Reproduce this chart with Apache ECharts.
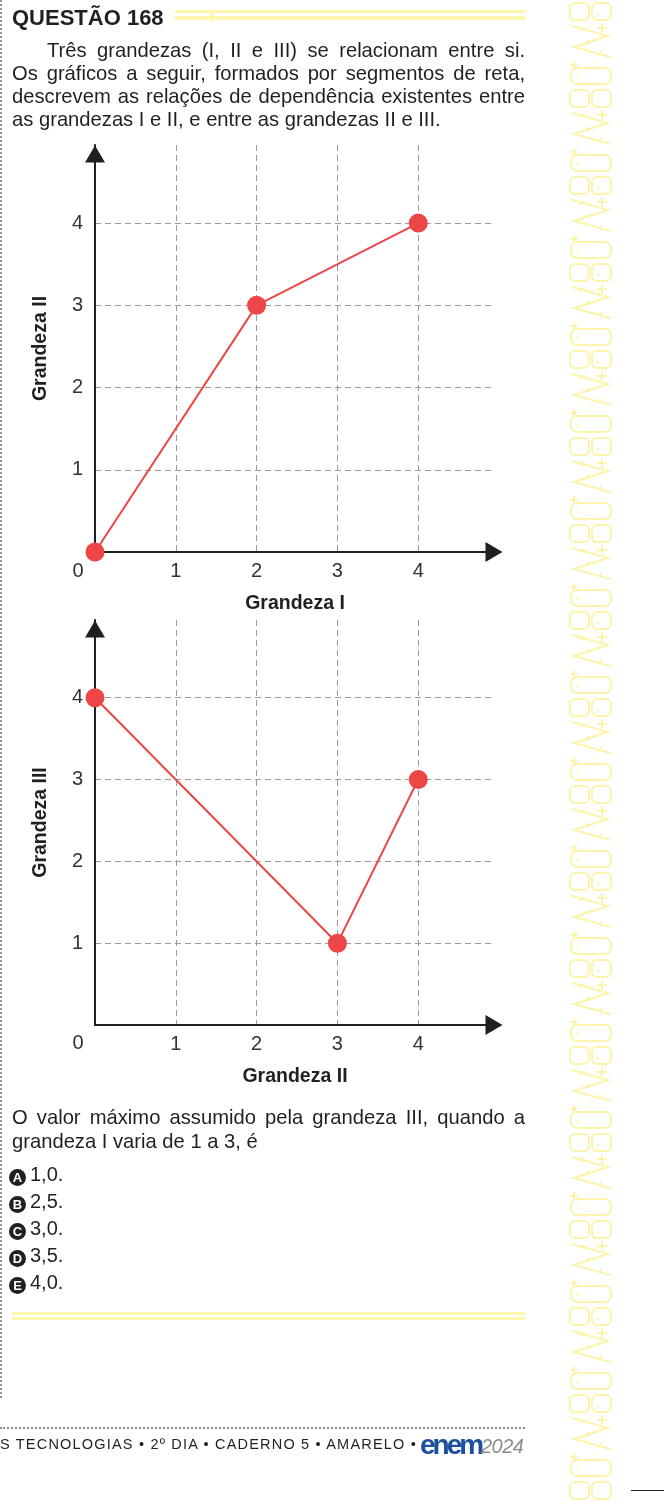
<!DOCTYPE html>
<html>
<head>
<meta charset="utf-8">
<script src="https://cdn.jsdelivr.net/npm/echarts@6/dist/echarts.min.js"></script>
<style>
html,body{margin:0;padding:0;background:#fff;}
body{width:664px;height:1501px;position:relative;overflow:hidden;font-family:'Liberation Sans',Arial,sans-serif;color:#231f20;}
#chart{position:absolute;left:0;top:0;width:664px;height:1501px;}
.abs{position:absolute;white-space:nowrap;}
.jl{position:absolute;font-size:20.2px;line-height:23px;text-align:justify;text-align-last:justify;white-space:normal;}
.ll{position:absolute;font-size:20.2px;line-height:23px;white-space:nowrap;}
.opt{position:absolute;left:9px;font-size:20px;line-height:27px;white-space:nowrap;}
.circ{display:inline-block;width:17px;height:17px;border-radius:50%;background:#231f20;color:#fff;font-weight:bold;font-size:13px;line-height:17px;text-align:center;vertical-align:-1px;margin-right:4px;}
.yl{position:absolute;background:#fdf6ad;}
#strip{position:absolute;left:568px;top:0;width:46px;height:1501px;opacity:0.85;
background-image:url("data:image/svg+xml;utf8,<svg xmlns='http://www.w3.org/2000/svg' width='46' height='87'><g fill='none' stroke='%23fbf29b' stroke-width='2' stroke-linecap='round'><rect x='2' y='3' width='19' height='17' rx='5'/><rect x='24' y='3' width='19' height='17' rx='5'/><path d='M4,26 L40,36 L6,47 L42,57'/><path d='M34,24 l0,8 M30,28 l8,0'/><path d='M6,62 l0,6 M3,65 l6,0'/><rect x='3' y='68' width='40' height='16' rx='6'/><path d='M12,30 q4,-4 6,0'/></g><g fill='%23fbf29b'><circle cx='20' cy='42' r='2'/><circle cx='30' cy='14' r='1.2'/><circle cx='10' cy='77' r='1.2'/><circle cx='33' cy='52' r='1.2'/></g></svg>");
background-repeat:repeat-y;background-size:46px 87px;}
</style>
</head>
<body>
<div id="chart"></div>

<!-- page decorations -->
<div class="abs" style="left:0;top:0;width:0;height:1398px;border-left:2px dotted #9a9a9a;"></div>
<div id="strip"></div>
<div class="yl" style="left:175px;top:10px;width:350px;height:3px;"></div>
<div class="yl" style="left:175px;top:16px;width:350px;height:4px;"></div>
<div class="yl" style="left:210px;top:10px;width:3px;height:12px;"></div>
<div class="yl" style="left:12px;top:1312px;width:513px;height:3px;"></div>
<div class="yl" style="left:12px;top:1317px;width:513px;height:3px;"></div>
<div class="abs" style="left:0;top:1427px;width:525px;height:0;border-top:2px dotted #8a8a8a;"></div>
<div class="abs" style="left:631px;top:1490px;width:33px;height:0;border-top:1px solid #231f20;"></div>

<!-- header & statement -->
<div class="abs" style="left:12px;top:7px;font-size:22px;line-height:22px;font-weight:bold;">QUESTÃO 168</div>
<div class="jl" style="left:47px;top:39px;width:478px;">Três grandezas (I, II e III) se relacionam entre si.</div>
<div class="jl" style="left:12px;top:62px;width:513px;">Os gráficos a seguir, formados por segmentos de reta,</div>
<div class="jl" style="left:12px;top:85px;width:513px;">descrevem as relações de dependência existentes entre</div>
<div class="ll" style="left:12px;top:108px;">as grandezas I e II, e entre as grandezas II e III.</div>

<!-- question -->
<div class="jl" style="left:12px;top:1105px;width:513px;line-height:24px;">O valor máximo assumido pela grandeza III, quando a</div>
<div class="ll" style="left:12px;top:1129px;line-height:24px;">grandeza I varia de 1 a 3, é</div>
<div class="opt" style="top:1161px;"><span class="circ">A</span>1,0.</div>
<div class="opt" style="top:1188px;"><span class="circ">B</span>2,5.</div>
<div class="opt" style="top:1215px;"><span class="circ">C</span>3,0.</div>
<div class="opt" style="top:1242px;"><span class="circ">D</span>3,5.</div>
<div class="opt" style="top:1269px;"><span class="circ">E</span>4,0.</div>

<!-- footer -->
<div id="foot" class="abs" style="left:0;top:1436px;font-size:14.5px;line-height:16px;color:#231f20;">S TECNOLOGIAS • 2º DIA • CADERNO 5 • AMARELO •</div>
<div class="abs" style="left:420px;top:1430px;font-size:28px;line-height:30px;font-weight:bold;color:#1c4f9c;letter-spacing:-3px;">enem</div>
<div class="abs" style="left:481px;top:1435px;font-size:20px;line-height:22px;font-style:italic;color:#8c8c8c;letter-spacing:-0.5px;">2024</div>

<script>
// ---- data ----
const tickValues = [1, 2, 3, 4];
const chart1_grandezaI = [0, 2, 4];     // x: Grandeza I
const chart1_grandezaII = [0, 3, 4];    // y: Grandeza II
const chart2_grandezaII = [0, 3, 4];    // x: Grandeza II
const chart2_grandezaIII = [4, 1, 3];   // y: Grandeza III
const chart1Names = ['Grandeza I', 'Grandeza II'];
const chart2Names = ['Grandeza II', 'Grandeza III'];
const zeroLabel = '0';

// footer letter spacing to fit measured width
(function () {
  const f = document.getElementById('foot');
  const target = 417;
  const n = f.textContent.length;
  const w0 = f.getBoundingClientRect().width;
  f.style.letterSpacing = ((target - w0) / n) + 'px';
})();

const FONT = 'Liberation Sans';
const RED = '#ec4646';
const AXIS = '#231f20';

function makeAxis(name, nameGap, isY) {
  return {
    type: 'value',
    min: 0,
    max: 4.95,
    interval: 1,
    name: name,
    nameLocation: 'middle',
    nameGap: nameGap,
    nameTextStyle: { fontFamily: FONT, fontWeight: 'bold', fontSize: 19.5, color: AXIS },
    axisLine: {
      show: true,
      onZero: false,
      symbol: ['none', 'triangle'],
      symbolSize: [20, 17],
      symbolOffset: [0, isY ? -9 : -1],
      lineStyle: { color: AXIS, width: 2 }
    },
    axisTick: { show: false },
    axisLabel: {
      fontFamily: FONT, fontSize: 20, color: '#333',
      margin: isY ? 12 : 9,
      showMinLabel: false, showMaxLabel: false,
      formatter: function (v) { return tickValues.indexOf(v) >= 0 ? String(v) : ''; }
    },
    splitLine: {
      show: true, showMinLine: false, showMaxLine: false,
      lineStyle: { color: '#9a9a9a', width: 1, type: [6, 4] }
    }
  };
}

const chart = echarts.init(document.getElementById('chart'), null, { renderer: 'canvas' });
chart.setOption({
  animation: false,
  backgroundColor: 'transparent',
  grid: [
    { left: 95, top: 145, width: 400, height: 407 },
    { left: 95, top: 620, width: 400, height: 405 }
  ],
  xAxis: [
    Object.assign(makeAxis(chart1Names[0], 42, false), { gridIndex: 0 }),
    Object.assign(makeAxis(chart2Names[0], 42, false), { gridIndex: 1 })
  ],
  yAxis: [
    Object.assign(makeAxis(chart1Names[1], 44, true), { gridIndex: 0 }),
    Object.assign(makeAxis(chart2Names[1], 44, true), { gridIndex: 1 })
  ],
  graphic: [
    { type: 'text', style: { text: zeroLabel, x: 78, y: 571, align: 'center', verticalAlign: 'middle', font: '20px "Liberation Sans"', fill: '#333' } },
    { type: 'text', style: { text: zeroLabel, x: 78, y: 1043, align: 'center', verticalAlign: 'middle', font: '20px "Liberation Sans"', fill: '#333' } }
  ],
  series: [
    {
      type: 'line', xAxisIndex: 0, yAxisIndex: 0, clip: false,
      data: chart1_grandezaI.map(function (x, i) { return [x, chart1_grandezaII[i]]; }),
      symbol: 'circle', symbolSize: 19,
      lineStyle: { color: RED, width: 2 },
      itemStyle: { color: RED }, z: 5
    },
    {
      type: 'line', xAxisIndex: 1, yAxisIndex: 1, clip: false,
      data: chart2_grandezaII.map(function (x, i) { return [x, chart2_grandezaIII[i]]; }),
      symbol: 'circle', symbolSize: 19,
      lineStyle: { color: RED, width: 2 },
      itemStyle: { color: RED }, z: 5
    }
  ]
});
</script>
</body>
</html>
